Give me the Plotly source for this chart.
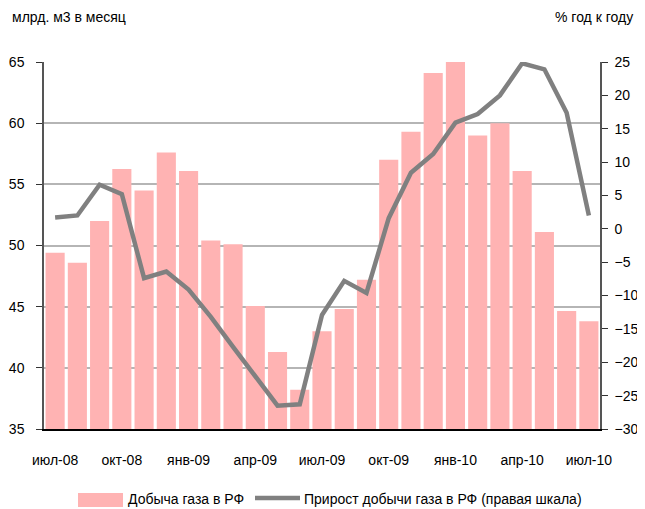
import plotly.graph_objects as go

months = ["июл-08", "авг-08", "сен-08", "окт-08", "ноя-08", "дек-08",
          "янв-09", "фев-09", "мар-09", "апр-09", "май-09", "июн-09",
          "июл-09", "авг-09", "сен-09", "окт-09", "ноя-09", "дек-09",
          "янв-10", "фев-10", "мар-10", "апр-10", "май-10", "июн-10", "июл-10"]
production = [49.4, 48.6, 52.0, 56.25, 54.5, 57.6,
              56.1, 50.4, 50.1, 45.05, 41.3, 38.2,
              43.0, 44.8, 47.2, 57.0, 59.3, 64.1,
              65.0, 59.0, 60.0, 56.1, 51.1, 44.65, 43.8]
growth = [1.7, 2.0, 6.6, 5.2, -7.4, -6.4,
          -9.1, -13.2, -17.7, -22.2, -26.5, -26.3,
          -12.9, -7.8, -9.6, 1.6, 8.4, 11.2,
          15.9, 17.2, 20.0, 24.8, 23.9, 17.4, 2.0]
tick_labels = months[::3]
bar_name = "Добыча газа в РФ"
line_name = "Прирост добычи газа в РФ (правая шкала)"

font = "Liberation Sans, Arial, sans-serif"
bar_color = "#ffb3b3"
line_color = "#808080"

fig = go.Figure()
fig.add_trace(go.Bar(x=months, y=production, name=bar_name, showlegend=False,
                     marker=dict(color=bar_color, line=dict(width=0)), yaxis="y"))
fig.add_trace(go.Scatter(x=months, y=growth, name=line_name, showlegend=False,
                         mode="lines", line=dict(color=line_color, width=4.5), yaxis="y2"))

# the page body has an 8px margin, so the figure is offset by 8px
W, H = 637, 501
L, R, T, B = 36, 45, 54, 80
ph = H - T - B
pw = W - L - R
# viewport pixel -> paper coordinates (plot area spans x 44..600, y 62..429 in the viewport)
px = lambda v: (v - 44) / pw
py = lambda v: (429 - v) / ph

fig.update_layout(
    width=W, height=H,
    margin=dict(l=L, r=R, t=T, b=B, autoexpand=False),
    paper_bgcolor="white", plot_bgcolor="white",
    font=dict(family=font, size=14, color="black"),
    bargap=0.14,
    showlegend=False,
    xaxis=dict(type="category", tickmode="array", tickvals=tick_labels, ticktext=tick_labels,
               showgrid=False, showline=True, linecolor="black", linewidth=1.5,
               ticks="", tickfont=dict(size=14), automargin=False, ticklabelstandoff=17),
    yaxis=dict(range=[35, 65], dtick=5, showgrid=True, gridcolor="#b5b5b5", gridwidth=1.5,
               showline=True, linecolor="#555555", linewidth=1.5,
               ticks="outside", ticklen=6, tickcolor="#333333", tickfont=dict(size=14),
               zeroline=False, automargin=False, ticklabelstandoff=9),
    yaxis2=dict(range=[-30, 25], dtick=5, overlaying="y", side="right", showgrid=False,
                showline=True, linecolor="#555555", linewidth=1.5,
                ticks="outside", ticklen=6, tickcolor="#333333", tickfont=dict(size=14),
                zeroline=False, automargin=False, ticklabelstandoff=4),
    annotations=[
        dict(text="млрд. м3 в месяц", x=px(10), xref="paper", xanchor="left",
             y=py(17), yref="paper", yanchor="middle",
             showarrow=False, font=dict(size=14)),
        dict(text="% год к году", x=px(635), xref="paper", xanchor="right",
             y=py(17), yref="paper", yanchor="middle",
             showarrow=False, font=dict(size=14)),
        dict(text=bar_name, x=px(126), xref="paper", xanchor="left",
             y=py(499), yref="paper", yanchor="middle",
             showarrow=False, font=dict(size=14)),
        dict(text=line_name, x=px(302), xref="paper", xanchor="left",
             y=py(499), yref="paper", yanchor="middle",
             showarrow=False, font=dict(size=14)),
    ],
    shapes=[
        dict(type="rect", xref="paper", yref="paper", x0=px(78), x1=px(123),
             y0=py(507), y1=py(493), fillcolor=bar_color, line=dict(width=0)),
        dict(type="line", xref="paper", yref="paper", x0=px(255), x1=px(300),
             y0=py(498), y1=py(498), line=dict(color=line_color, width=4.5)),
    ],
)

fig.write_html("out.html")
